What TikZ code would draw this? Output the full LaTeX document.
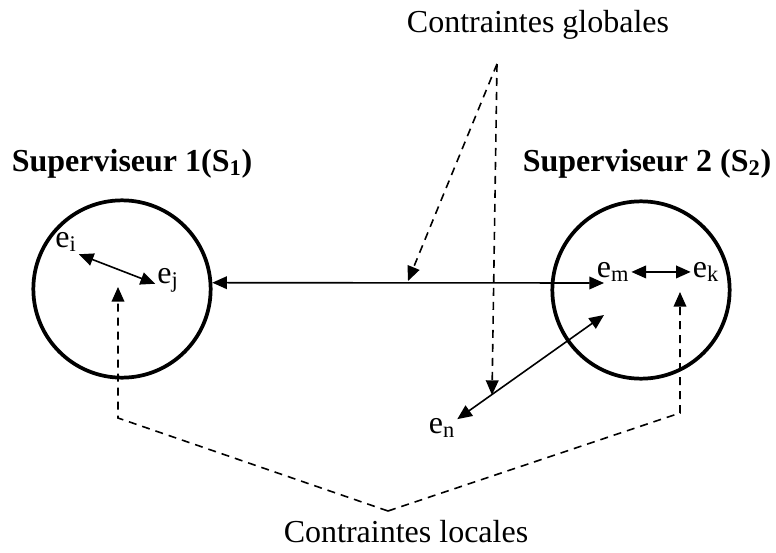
\documentclass[tikz,border=0pt]{standalone}
\usepackage{fontspec}
\setmainfont{Liberation Serif}
\usetikzlibrary{arrows.meta,positioning}

\begin{document}
\begin{tikzpicture}[
  x=0.75pt,y=-0.75pt,
  sup/.style={circle,draw=black,line width=2.8pt,minimum size=133pt,inner sep=0pt},
  title/.style={font=\fontsize{24}{28}\selectfont\bfseries,anchor=base,inner sep=0pt},
  note/.style={font=\fontsize{24}{28}\selectfont,anchor=base,inner sep=0pt},
  lbl/.style={font=\fontsize{24}{28}\selectfont,anchor=base,inner sep=1.5pt},
  link/.style={draw=black,line width=1.2pt,{Triangle[length=11pt,width=9.5pt]}-{Triangle[length=11pt,width=9.5pt]}},
  cstr/.style={draw=black,line width=1.2pt,dash pattern=on 6pt off 4.5pt,-{Triangle[length=11pt,width=9.5pt]}}
]
\useasboundingbox (0,0) rectangle (776,553);
\node[sup] (s1) at (122,289) {};
\node[sup] (s2) at (641,290) {};
\node[title] (n1) at (132,171) {Superviseur 1(S\textsubscript{1})};
\node[title] (n2) at (647,171) {Superviseur 2 (S\textsubscript{2})};
\node[note] (glob) at (538,32) {Contraintes globales};
\node[note] (loc) at (406,542) {Contraintes locales};
\node[lbl] (ei) at (66,247) {e\textsubscript{i}};
\node[lbl] (ej) at (168,283) {e\textsubscript{j}};
\node[lbl] (em) at (613,277) {e\textsubscript{m}};
\node[lbl] (ek) at (706,277) {e\textsubscript{k}};
\node[lbl] (en) at (442,433) {e\textsubscript{n}};
\coordinate (mt) at (604,283);
\coordinate (mb) at (604,315);
\coordinate (gtop) at (497,64);
\coordinate (gline) at (408,281);
\coordinate (gn) at (492,395);
\coordinate (lbot) at (388,511);
\coordinate (l1) at (118,418);
\coordinate (l2) at (680,413);
\coordinate (t1) at (118,287);
\coordinate (t2) at (680,292);
\draw[link] (ei.south east) -- (ej.195);
\draw[link] (em.east) -- (ek.west);
\draw[link] (s1.4) -- (mt);
\draw[link] (en.30) -- (mb);
\foreach \t in {gline,gn} {
  \draw[cstr] (gtop) -- (\t);
}
\foreach \c/\t in {l1/t1,l2/t2} {
  \draw[cstr] (lbot) -- (\c) -- (\t);
}
\end{tikzpicture}
\end{document}
